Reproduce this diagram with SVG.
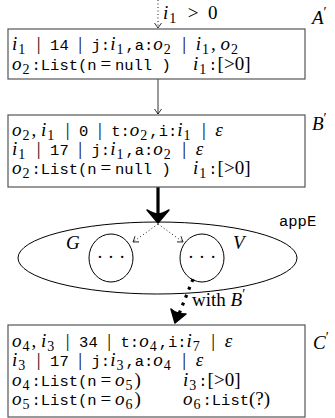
<svg xmlns="http://www.w3.org/2000/svg" width="335" height="418" viewBox="0 0 335 418">
<defs>
<style>
text { white-space: pre; fill: #000; }
.m { font-family: "Liberation Serif", serif; font-style: italic; font-size: 19px; }
.r { font-family: "Liberation Serif", serif; font-size: 19px; }
.s { font-family: "Liberation Serif", serif; font-size: 14px; }
.p { font-family: "Liberation Serif", serif; font-size: 14px; }
.t { font-family: "Liberation Mono", monospace; font-size: 15.5px; }
.box { fill: #fff; stroke: #555; stroke-width: 1.2; }
.thin { fill: none; stroke: #000; stroke-width: 0.8; }
.dot { fill: none; stroke: #000; stroke-width: 0.9; stroke-dasharray: 1 2.5; }
</style>
<marker id="open" viewBox="-6 -4 7 8" markerWidth="7" markerHeight="8" refX="0" refY="0" orient="auto" markerUnits="userSpaceOnUse">
<path d="M-5,-3.5 Q-1.5,-1 0,0 Q-1.5,1 -5,3.5" fill="none" stroke="#000" stroke-width="0.8"/>
</marker>
</defs>

<g id="connectors">
<line class="dot" x1="158" y1="0" x2="158" y2="28" marker-end="url(#open)"/>
<text x="163" y="19"><tspan class="m">i</tspan><tspan class="s" dx="1" dy="4">1</tspan><tspan class="r" dx="2" dy="-4">&#8194;&gt;&#8194;0</tspan></text>
<line class="thin" x1="158" y1="79" x2="158" y2="114" marker-end="url(#open)"/>
<line x1="158" y1="187" x2="158" y2="218" stroke="#000" stroke-width="3.2"/>
<path d="M158,223 L147,210 Q154,214 158,214 Q162,214 169,210 Z" fill="#000" stroke="#000" stroke-width="1.5" stroke-linejoin="round"/>
<line class="dot" x1="158" y1="224" x2="133" y2="242" marker-end="url(#open)"/>
<line class="dot" x1="158" y1="224" x2="183" y2="242" marker-end="url(#open)"/>
<line x1="193" y1="279" x2="179" y2="314" stroke="#000" stroke-width="3.2" stroke-dasharray="3 5.5"/>
<path d="M175,323 L171,309 Q176,314 186,314 Z" fill="#000" stroke="#000" stroke-width="1.5" stroke-linejoin="round"/>
<text x="192" y="306"><tspan class="r">with </tspan><tspan class="m">B</tspan><tspan class="p" dy="-7">′</tspan></text>
</g>

<g id="A">
<rect class="box" x="8" y="29" width="297" height="50"/>
<text x="12" y="50"><tspan class="m">i</tspan><tspan class="s" dx="1" dy="4">1</tspan><tspan class="r" dx="2" dy="-4">&#8194;|&#8194;</tspan><tspan class="t">14</tspan><tspan class="r">&#8194;|&#8194;</tspan><tspan class="t">j:</tspan><tspan class="m">i</tspan><tspan class="s" dx="1" dy="4">1</tspan><tspan class="t" dx="2" dy="-4">,a:</tspan><tspan class="m">o</tspan><tspan class="s" dx="1" dy="4">2</tspan><tspan class="r" dx="2" dy="-4">&#8194;|&#8194;</tspan><tspan class="m">i</tspan><tspan class="s" dx="1" dy="4">1</tspan><tspan class="r" dx="2" dy="-4">, </tspan><tspan class="m">o</tspan><tspan class="s" dx="1" dy="4">2</tspan></text>
<text x="12" y="70"><tspan class="m">o</tspan><tspan class="s" dx="1" dy="4">2</tspan><tspan class="t" dx="2" dy="-4">:List(n</tspan><tspan class="r">&#8201;=&#8201;</tspan><tspan class="t">null )</tspan></text>
<text x="193" y="70"><tspan class="m">i</tspan><tspan class="s" dx="1" dy="4">1</tspan><tspan class="t" dx="2" dy="-4">:</tspan><tspan class="r">[&gt;0]</tspan></text>
<text x="312" y="24"><tspan class="m">A</tspan><tspan class="p" dy="-7">′</tspan></text>
</g>

<g id="B">
<rect class="box" x="8" y="115" width="297" height="72"/>
<text x="12" y="136"><tspan class="m">o</tspan><tspan class="s" dx="1" dy="4">2</tspan><tspan class="r" dx="2" dy="-4">, </tspan><tspan class="m">i</tspan><tspan class="s" dx="1" dy="4">1</tspan><tspan class="r" dx="2" dy="-4">&#8194;|&#8194;</tspan><tspan class="t">0</tspan><tspan class="r">&#8194;|&#8194;</tspan><tspan class="t">t:</tspan><tspan class="m">o</tspan><tspan class="s" dx="1" dy="4">2</tspan><tspan class="t" dx="2" dy="-4">,i:</tspan><tspan class="m">i</tspan><tspan class="s" dx="1" dy="4">1</tspan><tspan class="r" dx="2" dy="-4">&#8194;|&#8194;</tspan><tspan class="m">ε</tspan></text>
<text x="12" y="155"><tspan class="m">i</tspan><tspan class="s" dx="1" dy="4">1</tspan><tspan class="r" dx="2" dy="-4">&#8194;|&#8194;</tspan><tspan class="t">17</tspan><tspan class="r">&#8194;|&#8194;</tspan><tspan class="t">j:</tspan><tspan class="m">i</tspan><tspan class="s" dx="1" dy="4">1</tspan><tspan class="t" dx="2" dy="-4">,a:</tspan><tspan class="m">o</tspan><tspan class="s" dx="1" dy="4">2</tspan><tspan class="r" dx="2" dy="-4">&#8194;|&#8194;</tspan><tspan class="m">ε</tspan></text>
<text x="12" y="174"><tspan class="m">o</tspan><tspan class="s" dx="1" dy="4">2</tspan><tspan class="t" dx="2" dy="-4">:List(n</tspan><tspan class="r">&#8201;=&#8201;</tspan><tspan class="t">null )</tspan></text>
<text x="193" y="174"><tspan class="m">i</tspan><tspan class="s" dx="1" dy="4">1</tspan><tspan class="t" dx="2" dy="-4">:</tspan><tspan class="r">[&gt;0]</tspan></text>
<text x="312" y="130"><tspan class="m">B</tspan><tspan class="p" dy="-7">′</tspan></text>
</g>

<g id="appE">
<ellipse cx="157.5" cy="258" rx="139.5" ry="36" fill="none" stroke="#000" stroke-width="1"/>
<text x="279" y="226" class="t">appE</text>
</g>

<g id="G">
<ellipse cx="111" cy="258" rx="22" ry="24" fill="none" stroke="#000" stroke-width="1"/>
<text x="111" y="263" class="r" text-anchor="middle">· · ·</text>
<text x="66" y="249" class="m">G</text>
</g>

<g id="V">
<ellipse cx="202" cy="258" rx="22" ry="24" fill="none" stroke="#000" stroke-width="1"/>
<text x="202" y="263" class="r" text-anchor="middle">· · ·</text>
<text x="233" y="249" class="m">V</text>
</g>

<g id="C">
<rect class="box" x="8" y="325" width="297" height="92"/>
<text x="12" y="347"><tspan class="m">o</tspan><tspan class="s" dx="1" dy="4">4</tspan><tspan class="r" dx="2" dy="-4">, </tspan><tspan class="m">i</tspan><tspan class="s" dx="1" dy="4">3</tspan><tspan class="r" dx="2" dy="-4">&#8194;|&#8194;</tspan><tspan class="t">34</tspan><tspan class="r">&#8194;|&#8194;</tspan><tspan class="t">t:</tspan><tspan class="m">o</tspan><tspan class="s" dx="1" dy="4">4</tspan><tspan class="t" dx="2" dy="-4">,i:</tspan><tspan class="m">i</tspan><tspan class="s" dx="1" dy="4">7</tspan><tspan class="r" dx="2" dy="-4">&#8194;|&#8194;</tspan><tspan class="m">ε</tspan></text>
<text x="12" y="366"><tspan class="m">i</tspan><tspan class="s" dx="1" dy="4">3</tspan><tspan class="r" dx="2" dy="-4">&#8194;|&#8194;</tspan><tspan class="t">17</tspan><tspan class="r">&#8194;|&#8194;</tspan><tspan class="t">j:</tspan><tspan class="m">i</tspan><tspan class="s" dx="1" dy="4">3</tspan><tspan class="t" dx="2" dy="-4">,a:</tspan><tspan class="m">o</tspan><tspan class="s" dx="1" dy="4">4</tspan><tspan class="r" dx="2" dy="-4">&#8194;|&#8194;</tspan><tspan class="m">ε</tspan></text>
<text x="12" y="386"><tspan class="m">o</tspan><tspan class="s" dx="1" dy="4">4</tspan><tspan class="t" dx="2" dy="-4">:List(n</tspan><tspan class="r">&#8201;=&#8201;</tspan><tspan class="m">o</tspan><tspan class="s" dx="1" dy="4">5</tspan><tspan class="r" dx="2" dy="-4">)</tspan></text>
<text x="183" y="386"><tspan class="m">i</tspan><tspan class="s" dx="1" dy="4">3</tspan><tspan class="t" dx="2" dy="-4">:</tspan><tspan class="r">[&gt;0]</tspan></text>
<text x="12" y="405"><tspan class="m">o</tspan><tspan class="s" dx="1" dy="4">5</tspan><tspan class="t" dx="2" dy="-4">:List(n</tspan><tspan class="r">&#8201;=&#8201;</tspan><tspan class="m">o</tspan><tspan class="s" dx="1" dy="4">6</tspan><tspan class="r" dx="2" dy="-4">)</tspan></text>
<text x="183" y="405"><tspan class="m">o</tspan><tspan class="s" dx="1" dy="4">6</tspan><tspan class="t" dx="2" dy="-4">:List</tspan><tspan class="r">(?)</tspan></text>
<text x="313" y="349"><tspan class="m">C</tspan><tspan class="p" dy="-7">′</tspan></text>
</g>
</svg>
